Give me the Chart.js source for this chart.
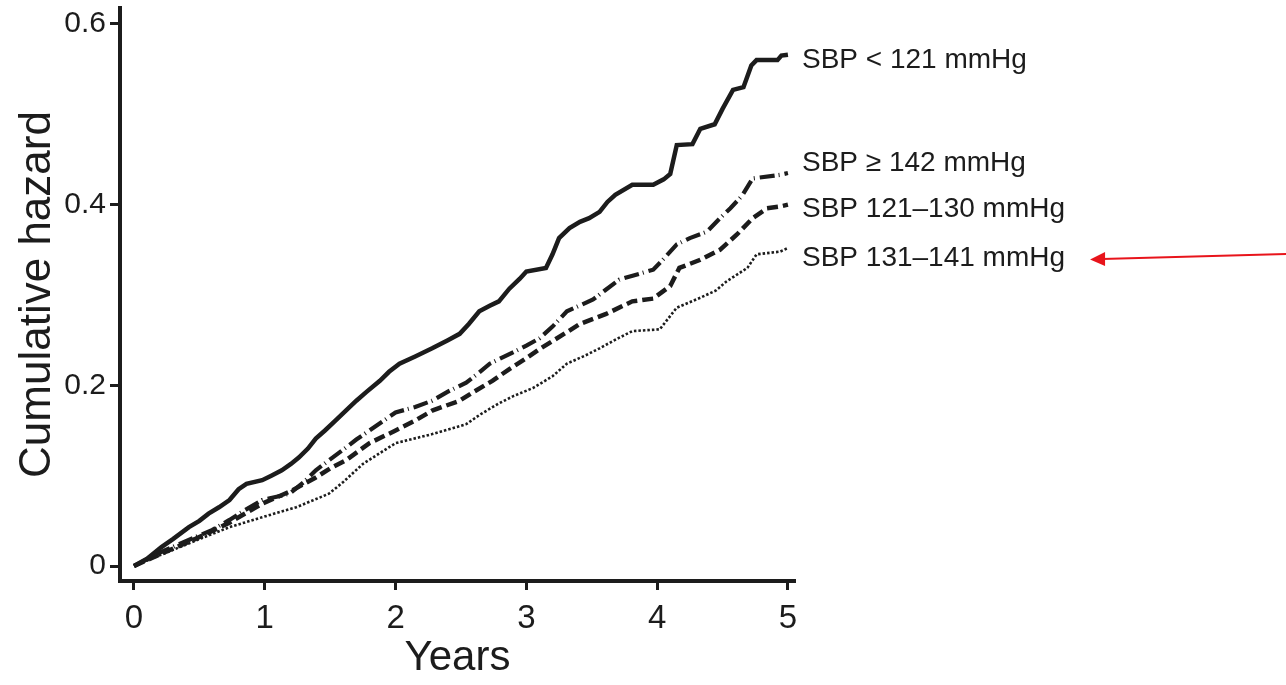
<!DOCTYPE html>
<html>
<head>
<meta charset="utf-8">
<script src="https://cdn.jsdelivr.net/npm/chart.js@4.4.1/dist/chart.umd.min.js"></script>
<style>
  html, body { margin: 0; padding: 0; background: #fff; }
  #grafico { display: block; }
</style>
</head>
<body>
<canvas id="grafico" width="1286" height="685"></canvas>
<script>
// valores (anos, risco acumulado)
const yearsLt121 = [0, 0.1, 0.21, 0.3, 0.42, 0.5, 0.57, 0.65, 0.73, 0.8, 0.86, 0.98, 1.05, 1.13, 1.2, 1.26, 1.33, 1.39, 1.46, 1.54, 1.62, 1.7, 1.78, 1.88, 1.95, 2.03, 2.15, 2.28, 2.4, 2.49, 2.56, 2.64, 2.72, 2.79, 2.87, 2.95, 3.0, 3.15, 3.2, 3.25, 3.33, 3.41, 3.48, 3.56, 3.62, 3.68, 3.81, 3.97, 4.05, 4.1, 4.15, 4.27, 4.33, 4.44, 4.5, 4.58, 4.66, 4.72, 4.76, 4.92, 4.95, 5.0];
const hazardLt121 = [0, 0.008, 0.021, 0.03, 0.043, 0.05, 0.058, 0.065, 0.073, 0.085, 0.091, 0.095, 0.1, 0.106, 0.113, 0.12, 0.13, 0.141, 0.15, 0.161, 0.172, 0.183, 0.193, 0.205, 0.215, 0.224, 0.232, 0.241, 0.25, 0.257, 0.268, 0.282, 0.288, 0.293, 0.307, 0.318, 0.326, 0.33, 0.345, 0.363, 0.374, 0.381, 0.385, 0.392, 0.403, 0.411, 0.422, 0.422, 0.428, 0.434, 0.466, 0.467, 0.484, 0.489, 0.506, 0.527, 0.53, 0.554, 0.56, 0.56, 0.565, 0.566];

const yearsGe142 = [0, 0.2, 0.47, 0.6, 0.73, 0.85, 0.98, 1.19, 1.3, 1.39, 1.5, 1.62, 1.7, 1.8, 1.9, 2.0, 2.15, 2.28, 2.4, 2.54, 2.63, 2.72, 2.89, 3.0, 3.1, 3.2, 3.31, 3.51, 3.6, 3.71, 3.97, 4.05, 4.15, 4.25, 4.38, 4.48, 4.56, 4.65, 4.73, 4.94, 5.0];
const hazardGe142 = [0, 0.015, 0.032, 0.04, 0.051, 0.062, 0.073, 0.08, 0.093, 0.106, 0.118, 0.131, 0.14, 0.15, 0.16, 0.17, 0.176, 0.183, 0.193, 0.203, 0.213, 0.224, 0.236, 0.244, 0.252, 0.265, 0.282, 0.295, 0.305, 0.317, 0.328, 0.34, 0.356, 0.363, 0.37, 0.385, 0.396, 0.41, 0.429, 0.433, 0.435];

const years121 = [0, 0.2, 0.47, 0.73, 0.98, 1.2, 1.39, 1.5, 1.62, 1.8, 2.0, 2.15, 2.28, 2.49, 2.6, 2.74, 2.87, 3.0, 3.1, 3.2, 3.3, 3.41, 3.61, 3.81, 3.97, 4.1, 4.17, 4.33, 4.48, 4.61, 4.73, 4.84, 4.94, 5.0];
const hazard121 = [0, 0.013, 0.03, 0.048, 0.069, 0.083, 0.098, 0.108, 0.117, 0.136, 0.15, 0.161, 0.172, 0.183, 0.193, 0.205, 0.218, 0.23, 0.24, 0.249, 0.258, 0.268, 0.279, 0.293, 0.296, 0.31, 0.33, 0.339, 0.35, 0.367, 0.385, 0.396, 0.398, 0.4];

const years131 = [0, 0.2, 0.47, 0.73, 0.98, 1.24, 1.49, 1.6, 1.75, 1.88, 2.0, 2.28, 2.54, 2.65, 2.79, 2.9, 3.05, 3.2, 3.31, 3.45, 3.56, 3.7, 3.81, 4.02, 4.15, 4.33, 4.45, 4.53, 4.69, 4.76, 4.94, 5.0];
const hazard131 = [0, 0.012, 0.028, 0.043, 0.054, 0.065, 0.08, 0.093, 0.113, 0.125, 0.136, 0.146, 0.157, 0.168, 0.18, 0.188, 0.197, 0.21, 0.224, 0.233, 0.241, 0.252, 0.26, 0.262, 0.286, 0.297, 0.305, 0.315, 0.33, 0.345, 0.348, 0.352];

const seriesNames = ['SBP < 121 mmHg', 'SBP \u2265 142 mmHg', 'SBP 121\u2013130 mmHg', 'SBP 131\u2013141 mmHg'];
const labelLevels = [0.56, 0.446, 0.395, 0.341];

const xTicks = [0, 1, 2, 3, 4, 5];
const yTicks = [0, 0.2, 0.4, 0.6];
const yTickLabels = ['0', '0.2', '0.4', '0.6'];

const fonte = '"Liberation Sans", Arial, sans-serif';
const ink = '#1c1c1c';

function pontos(xs, ys) {
    return xs.map((x, i) => ({ x: x, y: ys[i] }));
}

// rotulos ao fim das curvas + seta vermelha
const rotulos = {
    id: 'rotulos',
    afterDraw(chart) {
        const ctx = chart.ctx;
        const area = chart.chartArea;
        const y = chart.scales.y;
        ctx.save();
        ctx.font = '28px ' + fonte;
        ctx.fillStyle = ink;
        ctx.textBaseline = 'middle';
        ctx.textAlign = 'left';
        const x0 = area.right + 7;
        let fim = 0, meio = 0;
        seriesNames.forEach((nome, i) => {
            const py = y.getPixelForValue(labelLevels[i]);
            ctx.fillText(nome, x0, py);
            if (i === 3) { fim = x0 + ctx.measureText(nome).width; meio = py; }
        });
        // seta apontando para o ultimo rotulo
        const ponta = fim + 25;
        ctx.strokeStyle = '#e8141b';
        ctx.fillStyle = '#e8141b';
        ctx.lineWidth = 2;
        ctx.beginPath();
        ctx.moveTo(ponta + 12, meio + 1);
        ctx.lineTo(chart.width, meio - 4);
        ctx.stroke();
        ctx.beginPath();
        ctx.moveTo(ponta, meio + 1.5);
        ctx.lineTo(ponta + 15, meio - 6);
        ctx.lineTo(ponta + 15, meio + 8);
        ctx.closePath();
        ctx.fill();
        ctx.restore();
    }
};

const comum = { pointRadius: 0, fill: false, borderColor: ink, tension: 0, borderJoinStyle: 'miter' };

new Chart(document.getElementById('grafico').getContext('2d'), {
    type: 'line',
    data: {
        datasets: [
            { ...comum, label: seriesNames[0], data: pontos(yearsLt121, hazardLt121), borderWidth: 4.5 },
            { ...comum, label: seriesNames[1], data: pontos(yearsGe142, hazardGe142), borderWidth: 4.2, borderDash: [15, 4, 1, 5] },
            { ...comum, label: seriesNames[2], data: pontos(years121, hazard121), borderWidth: 4.5, borderDash: [11, 5] },
            { ...comum, label: seriesNames[3], data: pontos(years131, hazard131), borderWidth: 2.6, borderDash: [2.5, 2] }
        ]
    },
    options: {
        responsive: false,
        animation: false,
        layout: { padding: { top: 8, right: 491, left: 0, bottom: 0 } },
        plugins: { legend: { display: false }, tooltip: { enabled: false } },
        scales: {
            x: {
                type: 'linear',
                min: -0.107,
                max: 5.054,
                afterFit: s => { s.height = 104; s.paddingLeft = 0; s.paddingRight = 0; },
                afterBuildTicks: s => { s.ticks = xTicks.map(v => ({ value: v })); },
                border: { display: true, width: 4, color: ink },
                grid: { drawOnChartArea: false, drawTicks: true, tickLength: 9, tickWidth: 3, tickColor: ink },
                ticks: { color: ink, font: { family: fonte, size: 33 }, padding: 9, maxRotation: 0, autoSkip: false },
                title: { display: true, text: 'Years', color: ink, font: { family: fonte, size: 42 }, padding: { top: 0, bottom: 1 } }
            },
            y: {
                type: 'linear',
                min: -0.0166,
                max: 0.6177,
                afterFit: s => { s.width = 120; s.paddingTop = 0; s.paddingBottom = 0; },
                afterBuildTicks: s => { s.ticks = yTicks.map(v => ({ value: v })); },
                border: { display: true, width: 4, color: ink },
                grid: { drawOnChartArea: false, drawTicks: true, tickLength: 10, tickWidth: 3, tickColor: ink },
                ticks: { color: ink, font: { family: fonte, size: 30 }, padding: 4, autoSkip: false,
                    callback: (v, i) => yTickLabels[i] },
                title: { display: true, text: 'Cumulative hazard', color: ink, font: { family: fonte, size: 44 }, padding: { top: 11, bottom: 0 } }
            }
        }
    },
    plugins: [rotulos]
});
</script>
</body>
</html>
